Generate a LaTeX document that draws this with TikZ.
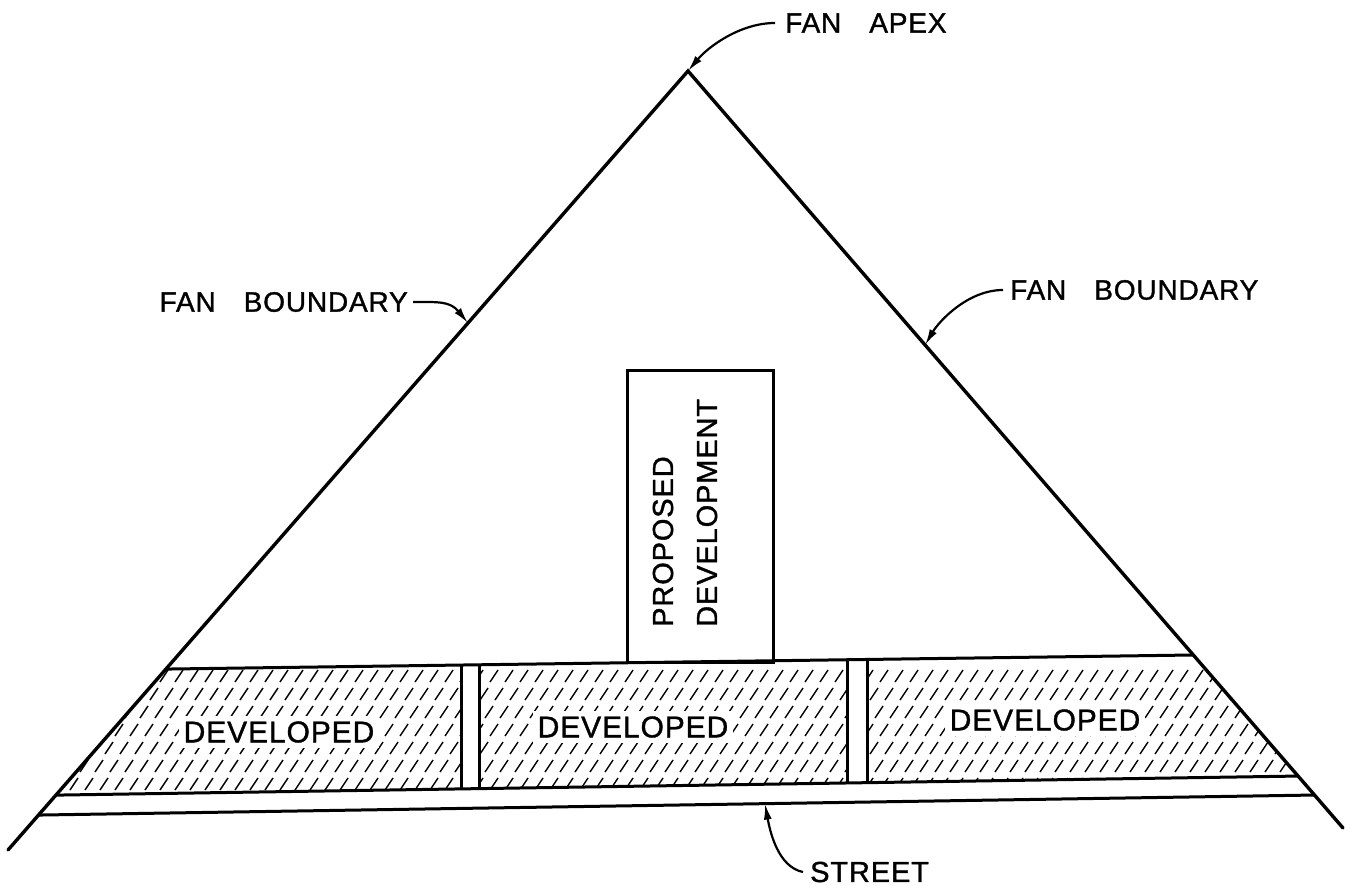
\documentclass[tikz,border=0pt]{standalone}
\usepackage{fontspec}
\setmainfont{Liberation Sans}[FakeBold=1.2, LetterSpace=3]
\usetikzlibrary{arrows.meta,calc}

\begin{document}
\begin{tikzpicture}[
  x=1pt, y=-1pt,
  edge/.style={line width=3.4pt, line cap=round},
  wall/.style={line width=3pt},
  hatch/.style={line width=1.4pt},
  box/.style={draw, wall, inner sep=0pt},
  lbl/.style={inner sep=0pt, font=\fontsize{28}{34}\selectfont},
  parcel/.style={fill=white, inner sep=5pt, font=\fontsize{30}{36}\selectfont},
  leader/.style={-{Latex[length=16pt,width=8pt]}, line width=2.2pt}
]
\useasboundingbox (0,0) rectangle (1354,890);

% fan outline and guide lines
\coordinate (apex) at (688,71);
\coordinate (lfoot) at (8,850);
\coordinate (rfoot) at (1343,828);
\coordinate (topW) at (0,671.3);
\coordinate (topE) at (1354,652.7);
\coordinate (botW) at (0,795.9);
\coordinate (botE) at (1354,775.1);
\coordinate (strW) at (0,815.6);
\coordinate (strE) at (1354,794.3);

\coordinate (tl) at (intersection of apex--lfoot and topW--topE);
\coordinate (tr) at (intersection of apex--rfoot and topW--topE);
\coordinate (bl) at (intersection of apex--lfoot and botW--botE);
\coordinate (br) at (intersection of apex--rfoot and botW--botE);
\coordinate (sl) at (intersection of apex--lfoot and strW--strE);
\coordinate (sr) at (intersection of apex--rfoot and strW--strE);

\foreach \gx [count=\i] in {462,480,847,867} {
  \coordinate (gt\i) at ($(topW)!{\gx/1354}!(topE)$);
  \coordinate (gb\i) at ($(botW)!{\gx/1354}!(botE)$);
}

% hatching of the developed lots
\begin{scope}
  \clip (tl) -- (gt1) -- (gb1) -- (bl) -- cycle
        (gt2) -- (gt3) -- (gb3) -- (gb2) -- cycle
        (gt4) -- (tr) -- (br) -- (gb4) -- cycle;
  \foreach \r in {0,...,6}
    \foreach \c in {0,...,86}
      \draw[hatch] ({40+15*\c+5*\r}, {682+18*\r}) -- ++(8,-12);
\end{scope}

\draw[edge] (lfoot) -- (apex) -- (rfoot);
\draw[wall] (tl) -- (tr);
\draw[wall] (bl) -- (br);
\draw[wall] (sl) -- (sr);
\foreach \i in {1,...,4}
  \draw[wall] (gt\i) -- (gb\i);

% proposed development
\node[box, minimum width=146pt, minimum height=292pt] (proposed) at (700,516) {};
\node[inner sep=0pt, rotate=90, anchor=west, align=left,
      font=\fontsize{29}{44}\selectfont] (proptext) at (685,627) {PROPOSED\\DEVELOPMENT};

\node[parcel] (dev1) at (279,732) {DEVELOPED};
\node[parcel] (dev2) at (633,727) {DEVELOPED};
\node[parcel] (dev3) at (1045,720) {DEVELOPED};

% labels and leaders
\node[lbl, anchor=west] (apexlbl) at (785,23) {FAN\quad APEX};
\node[lbl, anchor=east] (lbound) at (408,302) {FAN\quad BOUNDARY};
\node[lbl, anchor=west] (rbound) at (1010,290) {FAN\quad BOUNDARY};
\node[lbl, anchor=west, font=\fontsize{29}{34}\selectfont] (streetlbl) at (810,872) {STREET};

\coordinate (ltip) at ($(apex)!0.3235!(lfoot)$);
\coordinate (rtip) at ($(apex)!0.362!(rfoot)$);
\coordinate (stip) at ($(strW)!{765/1354}!(strE)$);

\draw[leader] ([xshift=-10pt]apexlbl.west) .. controls +(-35,0) and +(20,-24) .. (apex);
\draw[leader] ([xshift=5pt]lbound.east) .. controls +(25,0) and +(-18,-22) .. (ltip);
\draw[leader] ([xshift=-7pt]rbound.west) .. controls +(-35,0) and +(14,-24) .. (rtip);
\draw[leader] ([xshift=-7pt]streetlbl.west) .. controls +(-25,-5) and +(5,28) .. (stip);

\end{tikzpicture}
\end{document}
